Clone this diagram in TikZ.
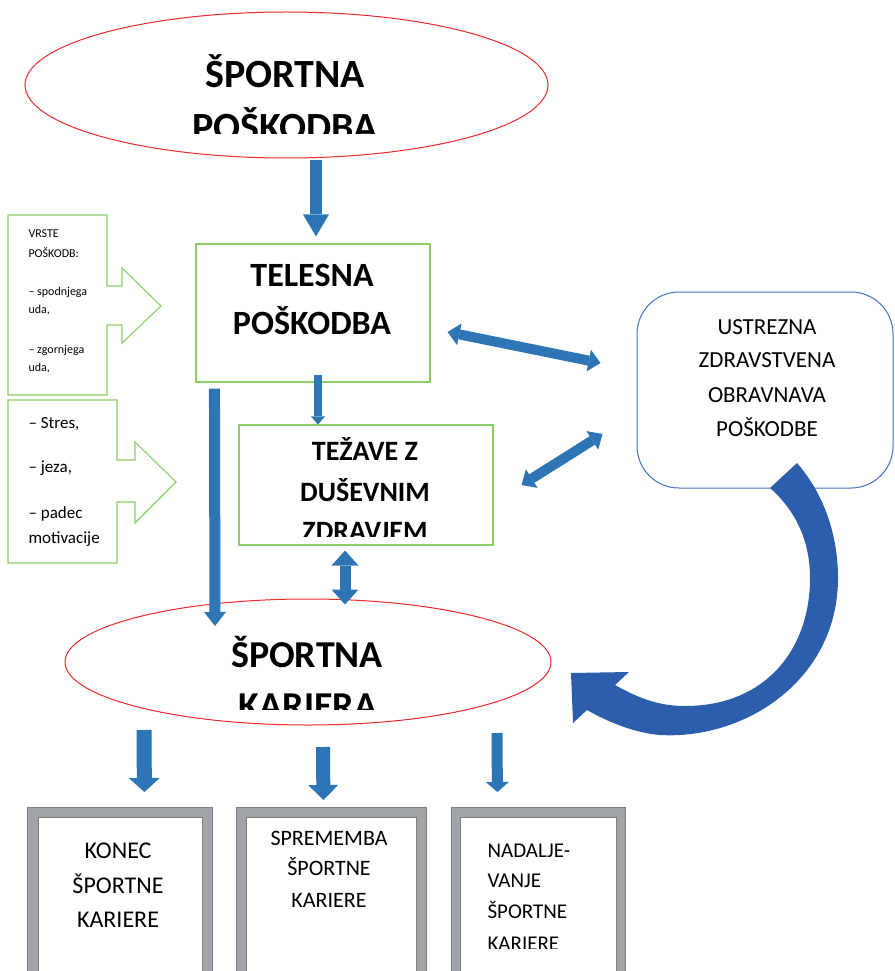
\documentclass[tikz,border=0pt]{standalone}
\usepackage{fontspec}
\setmainfont{Carlito}
\usetikzlibrary{shapes.geometric,arrows.meta,calc}
\definecolor{boxgreen}{RGB}{140,206,100}
\definecolor{arrowblue}{RGB}{46,117,182}
\definecolor{curveblue}{RGB}{44,94,172}
\definecolor{ovalred}{RGB}{238,40,40}
\definecolor{roundblue}{RGB}{68,114,196}
\definecolor{framegray}{RGB}{160,163,168}
\definecolor{framedark}{RGB}{125,128,132}
\begin{document}
\begin{tikzpicture}[x=1pt,y=-1pt,
  oval/.style={draw=ovalred,line width=1pt,ellipse,inner sep=0pt},
  greenbox/.style={draw=boxgreen,line width=1.1pt,inner sep=0pt},
  callout/.style={draw=boxgreen,line width=1.1pt,fill=white},
  gframe/.style={fill=framegray,draw=framedark,line width=0.8pt,inner sep=0pt,anchor=north west},
  ginner/.style={fill=white,draw=framedark,line width=0.6pt,inner sep=0pt,anchor=north west},
  barrow/.style args={#1/#2/#3}{draw=arrowblue,line width=#1,-{Triangle[width=#2,length=#3,line width=0pt]}},
  darrow/.style args={#1/#2/#3}{draw=arrowblue,line width=#1,{Triangle[width=#2,length=#3,line width=0pt]}-{Triangle[width=#2,length=#3,line width=0pt]}},
  bigtitle/.style={anchor=base,font=\fontsize{40}{48}\selectfont\bfseries},
  midtitle/.style={anchor=base,font=\fontsize{34}{40}\selectfont\bfseries},
  smalltitle/.style={anchor=base,font=\fontsize{28}{34}\selectfont\bfseries},
  ustext/.style={anchor=base,font=\fontsize{23}{28}\selectfont},
  tinytext/.style={anchor=base west,font=\fontsize{12}{14}\selectfont},
  listtext/.style={anchor=base west,font=\fontsize{17}{20}\selectfont}
]
\clip (0,0) rectangle (894,971);
\fill[white] (0,0) rectangle (894,971);

% main shapes
\node[oval,minimum width=523,minimum height=146] (oval1) at (286.5,85) {};
\node[greenbox,minimum width=234,minimum height=138] (tel) at (313,313) {};
\node[greenbox,minimum width=254,minimum height=120] (tez) at (366,485) {};
\node[draw=roundblue,line width=1pt,rounded corners=42pt,minimum width=256,minimum height=196,inner sep=0pt] (ust) at (765,390) {};
\node[oval,minimum width=486,minimum height=126] (oval2) at (308,662) {};

% titles
\node[bigtitle] (t1a) at (285,88) {ŠPORTNA};
\begin{scope}
\clip (0,0) rectangle (894,133);
\node[bigtitle] (t1b) at (285,140) {POŠKODBA};
\end{scope}
\node[midtitle] (t2a) at (312,286) {TELESNA};
\node[midtitle] (t2b) at (312,334) {POŠKODBA};
\node[smalltitle] (t3a) at (365,460) {TEŽAVE Z};
\node[smalltitle] (t3b) at (365,501) {DUŠEVNIM};
\begin{scope}
\clip (0,0) rectangle (894,536);
\node[smalltitle] (t3c) at (365,540) {ZDRAVJEM};
\end{scope}
\node[ustext] (u1) at (767,334) {USTREZNA};
\node[ustext] (u2) at (767,367) {ZDRAVSTVENA};
\node[ustext] (u3) at (767,402) {OBRAVNAVA};
\node[ustext] (u4) at (767,436) {POŠKODBE};
\node[bigtitle,font=\fontsize{38}{46}\selectfont\bfseries] (t4a) at (307,667) {ŠPORTNA};
\begin{scope}
\clip (0,0) rectangle (894,709);
\node[bigtitle,font=\fontsize{38}{46}\selectfont\bfseries] (t4b) at (308,718) {KARIERA};
\end{scope}

% callouts
\draw[callout] (8,215) -- (107,215) -- (107,286) -- (122,286) -- (122,268) -- (161,306)
  -- (122,343) -- (122,325) -- (107,325) -- (107,395) -- (8,395) -- cycle;
\node[tinytext] (ca1) at (25,237) {VRSTE};
\node[tinytext] (ca2) at (25,257) {POŠKODB:};
\node[tinytext] (ca3) at (25,295) {– spodnjega};
\node[tinytext] (ca4) at (25,313) {uda,};
\node[tinytext] (ca5) at (25,353) {– zgornjega};
\node[tinytext] (ca6) at (25,371) {uda,};
\draw[callout] (8,400) -- (117,400) -- (117,460) -- (135,460) -- (135,442) -- (176,482)
  -- (135,523) -- (135,502) -- (117,502) -- (117,563) -- (8,563) -- cycle;
\node[listtext] (cb1) at (25,428) {– Stres,};
\node[listtext] (cb2) at (25,472) {– jeza,};
\node[listtext] (cb3) at (25,518) {– padec};
\node[listtext] (cb4) at (25,543) {motivacije};

% bottom boxes
\node[gframe,minimum width=185,minimum height=190] (b1) at (27,807) {};
\node[ginner,minimum width=164,minimum height=190] (b1i) at (38,817) {};
\node[gframe,minimum width=190,minimum height=190] (b2) at (236,807) {};
\node[ginner,minimum width=170,minimum height=190] (b2i) at (246,817) {};
\node[gframe,minimum width=174,minimum height=190] (b3) at (451,807) {};
\node[ginner,minimum width=156,minimum height=190] (b3i) at (460,817) {};

\begin{scope}[every node/.style={anchor=base,font=\fontsize{24}{28}\selectfont}]
\node (k1) at (118,858) {KONEC};
\node (k2) at (118,893) {ŠPORTNE};
\node (k3) at (118,927) {KARIERE};
\end{scope}
\begin{scope}[every node/.style={anchor=base,font=\fontsize{22}{26}\selectfont}]
\node (s1) at (329,845) {SPREMEMBA};
\node (s2) at (329,875) {ŠPORTNE};
\node (s3) at (329,907) {KARIERE};
\end{scope}
\begin{scope}[every node/.style={anchor=base west,font=\fontsize{21}{25}\selectfont}]
\node (n1) at (484,857) {NADALJE-};
\node (n2) at (484,887) {VANJE};
\node (n3) at (484,918) {ŠPORTNE};
\clip (0,0) rectangle (894,948);
\node (n4) at (484,950) {KARIERE};
\end{scope}

% straight arrows
\draw[barrow={12pt/26pt/22pt}] ($(oval1.south)+(29.5,1)$) -- ($(tel.north)+(3,-7)$);
\draw[barrow={8pt/14pt/8pt}] ($(tel.south)+(5,-8)$) -- ($(tez.north)+(-48,0)$);
\draw[barrow={11pt/22pt/14pt}] ($(tel.south west)+(19,6)$) -- ($(oval2.center)+(-93,-36)$);
\draw[darrow={11pt/27pt/15pt}] ($(tez.south)+(-21,5)$) -- ($(oval2.north)+(37,6)$);
\draw[darrow={10pt/22pt/12pt}] ($(tel.east)+(17,19)$) -- ($(ust.west)+(-36,-27)$);
\draw[darrow={10pt/22pt/12pt}] ($(tez.east)+(28,0)$) -- ($(ust.west)+(-34,44)$);
\draw[barrow={15pt/31pt/14pt}] ($(oval2.center)+(-164,68)$) -- ($(b1.north)+(24.5,-15)$);
\draw[barrow={14pt/30pt/15pt}] ($(oval2.center)+(15,85)$) -- ($(b2.north)+(-8,-7)$);
\draw[barrow={11pt/23pt/10pt}] ($(oval2.center)+(189,71)$) -- ($(b3.north)+(-41,-15)$);

% curved arrow from treatment back to career
\fill[curveblue] (797,463) .. controls (824,494) and (838,535) .. (838,578)
  .. controls (838,680) and (745,740) .. (660,735)
  .. controls (635,733) and (608,722) .. (587,710)
  -- (573,723) -- (571,673) -- (629,672) -- (615,685)
  .. controls (640,699) and (660,706) .. (685,706)
  .. controls (765,706) and (810,650) .. (810,578)
  .. controls (810,540) and (795,510) .. (770,488) -- cycle;
\end{tikzpicture}
\end{document}
